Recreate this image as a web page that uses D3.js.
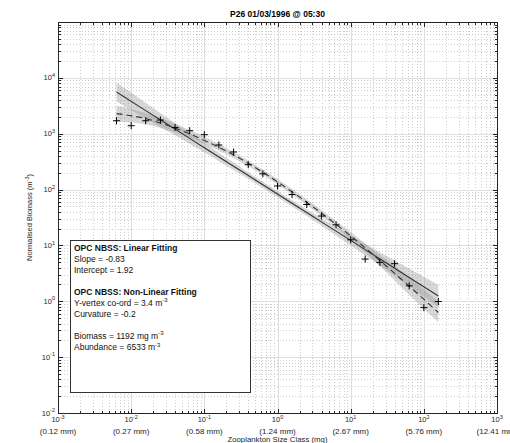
<!DOCTYPE html>
<html>
<head>
<meta charset="utf-8">
<script src="https://cdn.jsdelivr.net/npm/d3@7"></script>
<style>
  body { margin: 0; background: #fff; }
  svg { display: block; font-family: "Liberation Sans", Arial, sans-serif; }
</style>
</head>
<body>
<div id="chart"></div>
<script>
// size classes (mg) and normalised biomass (m^-3)
var sizeClass = [0.0063, 0.01, 0.0158, 0.0251, 0.0398, 0.0631, 0.1, 0.158, 0.251, 0.398, 0.631,
  1, 1.58, 2.51, 3.98, 6.31, 10, 15.8, 25.1, 39.8, 63.1, 100, 158];
var biomass = [1706, 1390, 1706, 1758, 1294, 1132, 959, 628, 471, 279, 191,
  116, 81.5, 54, 33.6, 23.4, 12.6, 5.7, 4.97, 4.71, 1.89, 0.77, 0.99];

// fitted curves
var fitSize   = [0.0063, 0.0158, 0.0398, 0.1, 0.251, 0.631, 1.58, 3.98, 10, 25.1, 63.1, 158];
var linFit    = [5572, 2594, 1208, 562, 262, 122, 56.8, 26.4, 12.3, 5.73, 2.67, 1.24];
var linUpper  = [8241, 3581, 1556, 684, 304, 138, 64.4, 30.7, 15.1, 7.55, 3.85, 1.97];
var linLower  = [3767, 1879, 938, 462, 225, 107, 50.0, 22.8, 10.0, 4.35, 1.85, 0.78];
var quadFit   = [2291, 1862, 1259, 759, 417, 204, 91.2, 38.0, 14.8, 5.37, 1.86, 0.63];
var quadUpper = [3162, 2344, 1514, 881, 473, 229, 102, 43.2, 17.4, 6.76, 2.69, 1.0];
var quadLower = [1660, 1479, 1047, 653, 367, 182, 81.3, 33.5, 12.6, 4.27, 1.29, 0.42];

var xTickExp = [-3, -2, -1, 0, 1, 2, 3];
var xTickMm = ['(0.12 mm)', '(0.27 mm)', '(0.58 mm)', '(1.24 mm)', '(2.67 mm)', '(5.76 mm)', '(12.41 mm)'];
var yTickExp = [-2, -1, 0, 1, 2, 3, 4];

var title = 'P26 01/03/1996 @ 05:30';
var xTitle = 'Zooplankton Size Class (mg)';
var yTitle = ['Normalised Biomass (m', '-3', ')'];
var legendText = [
  'OPC NBSS: Linear Fitting',
  'Slope = -0.83',
  'Intercept = 1.92',
  '',
  'OPC NBSS: Non-Linear Fitting',
  'Y-vertex co-ord = 3.4 m^-3',
  'Curvature = -0.2',
  '',
  'Biomass = 1192 mg m^-3',
  'Abundance = 6533 m^-3'
];

var W = 510, H = 443;
var L = 58, R = 497, T = 22, B = 413;
var ink = '#262626';

var svg = d3.select('#chart').append('svg')
  .attr('width', W).attr('height', H);

var x = d3.scaleLog().domain([1e-3, 1e3]).range([L, R]);
var y = d3.scaleLog().domain([1e-2, 1e5]).range([B, T]);

function px(v) { return Math.round(v) + 0.5; }

// text with "^" superscript
function richText(sel, str, baseSize, supSize) {
  var parts = str.split('^');
  sel.append('tspan').text(parts[0]).style('font-size', baseSize + 'px');
  if (parts.length > 1) {
    sel.append('tspan').text(parts[1]).attr('dy', -baseSize * 0.45).style('font-size', supSize + 'px');
  }
}

// grid
var xMinor = [], yMinor = [];
for (var e = -3; e < 3; e++) for (var k = 2; k <= 9; k++) xMinor.push(k * Math.pow(10, e));
for (var e2 = -2; e2 < 5; e2++) for (var k2 = 2; k2 <= 9; k2++) yMinor.push(k2 * Math.pow(10, e2));
var xMajor = xTickExp.map(function(d) { return Math.pow(10, d); });
var yMajor = yTickExp.concat([5]).map(function(d) { return Math.pow(10, d); });

var grid = svg.append('g').attr('shape-rendering', 'crispEdges');
grid.selectAll('.xmin').data(xMinor).enter().append('line')
  .attr('x1', function(d) { return px(x(d)); }).attr('x2', function(d) { return px(x(d)); })
  .attr('y1', T).attr('y2', B)
  .attr('stroke', '#cdcdcd').attr('stroke-dasharray', '1,2');
grid.selectAll('.ymin').data(yMinor).enter().append('line')
  .attr('y1', function(d) { return px(y(d)); }).attr('y2', function(d) { return px(y(d)); })
  .attr('x1', L).attr('x2', R)
  .attr('stroke', '#cdcdcd').attr('stroke-dasharray', '1,2');
grid.selectAll('.xmaj').data(xMajor).enter().append('line')
  .attr('x1', function(d) { return px(x(d)); }).attr('x2', function(d) { return px(x(d)); })
  .attr('y1', T).attr('y2', B)
  .attr('stroke', '#dedede');
grid.selectAll('.ymaj').data(yMajor).enter().append('line')
  .attr('y1', function(d) { return px(y(d)); }).attr('y2', function(d) { return px(y(d)); })
  .attr('x1', L).attr('x2', R)
  .attr('stroke', '#dedede');

// confidence bands
function band(lo, hi) {
  return d3.area()
    .x(function(d, i) { return x(fitSize[i]); })
    .y0(function(d, i) { return y(lo[i]); })
    .y1(function(d, i) { return y(hi[i]); })
    .curve(d3.curveMonotoneX)(fitSize);
}
svg.append('path').attr('d', band(linLower, linUpper))
  .attr('fill', '#8c8c8c').attr('fill-opacity', 0.35);
svg.append('path').attr('d', band(quadLower, quadUpper))
  .attr('fill', '#8c8c8c').attr('fill-opacity', 0.35);

// fits
var lineGen = function(vals) {
  return d3.line()
    .x(function(d, i) { return x(fitSize[i]); })
    .y(function(d, i) { return y(vals[i]); })
    .curve(d3.curveMonotoneX)(fitSize);
};
svg.append('path').attr('d', lineGen(linFit))
  .attr('fill', 'none').attr('stroke', '#333').attr('stroke-width', 1.1);
svg.append('path').attr('d', lineGen(quadFit))
  .attr('fill', 'none').attr('stroke', '#333').attr('stroke-width', 1.1)
  .attr('stroke-dasharray', '6,4');

// data markers
svg.append('g').selectAll('path').data(sizeClass).enter().append('path')
  .attr('d', function(d, i) {
    var cx = x(d), cy = y(biomass[i]), s = 3.5;
    return 'M' + (cx - s) + ',' + cy + 'H' + (cx + s) + 'M' + cx + ',' + (cy - s) + 'V' + (cy + s);
  })
  .attr('stroke', '#000').attr('stroke-width', 1).attr('fill', 'none');

// axes box and ticks (inward, all four sides)
var ax = svg.append('g').attr('shape-rendering', 'crispEdges');
ax.append('rect').attr('x', L + 0.5).attr('y', T + 0.5)
  .attr('width', R - L).attr('height', B - T)
  .attr('fill', 'none').attr('stroke', ink);
function xTicks(vals, len) {
  vals.forEach(function(d) {
    var xx = px(x(d));
    ax.append('line').attr('x1', xx).attr('x2', xx).attr('y1', B).attr('y2', B - len).attr('stroke', ink);
    ax.append('line').attr('x1', xx).attr('x2', xx).attr('y1', T).attr('y2', T + len).attr('stroke', ink);
  });
}
function yTicks(vals, len) {
  vals.forEach(function(d) {
    var yy = px(y(d));
    ax.append('line').attr('y1', yy).attr('y2', yy).attr('x1', L).attr('x2', L + len).attr('stroke', ink);
    ax.append('line').attr('y1', yy).attr('y2', yy).attr('x1', R).attr('x2', R - len).attr('stroke', ink);
  });
}
xTicks(xMinor, 2.5); xTicks(xMajor, 4.5);
yTicks(yMinor, 2.5); yTicks(yMajor, 4.5);

// tick labels
xTickExp.forEach(function(e, i) {
  var t = svg.append('text').attr('x', x(Math.pow(10, e))).attr('y', 422)
    .attr('text-anchor', 'middle').attr('fill', ink);
  richText(t, '10^' + e, 7.5, 5.5);
  svg.append('text').attr('x', x(Math.pow(10, e))).attr('y', 434)
    .attr('text-anchor', 'middle').attr('fill', ink)
    .style('font-size', '8px').text(xTickMm[i]);
});
yTickExp.forEach(function(e) {
  var t = svg.append('text').attr('x', 55).attr('y', y(Math.pow(10, e)) + 2.5)
    .attr('text-anchor', 'end').attr('fill', ink);
  richText(t, '10^' + e, 7.5, 5.5);
});

// titles
svg.append('text').attr('x', (L + R) / 2).attr('y', 17)
  .attr('text-anchor', 'middle').attr('fill', '#000')
  .style('font-size', '8.5px').style('font-weight', 'bold').text(title);
svg.append('text').attr('x', (L + R) / 2).attr('y', 442)
  .attr('text-anchor', 'middle').attr('fill', ink)
  .style('font-size', '7.8px').text(xTitle);
var yt = svg.append('text')
  .attr('transform', 'translate(32,' + ((T + B) / 2) + ') rotate(-90)')
  .attr('text-anchor', 'middle').attr('fill', ink);
yt.append('tspan').style('font-size', '7.5px').text(yTitle[0]);
yt.append('tspan').attr('dy', -3.4).style('font-size', '5.5px').text(yTitle[1]);
yt.append('tspan').attr('dy', 3.4).style('font-size', '7.5px').text(yTitle[2]);

// legend box
var lg = svg.append('g');
lg.append('rect').attr('x', 70.5).attr('y', 240.5).attr('width', 180).attr('height', 152)
  .attr('fill', '#fff').attr('stroke', '#333').attr('stroke-width', 1)
  .attr('shape-rendering', 'crispEdges');
legendText.forEach(function(s, i) {
  if (!s) return;
  var t = lg.append('text').attr('x', 74).attr('y', 250.5 + i * 11.1).attr('fill', '#111')
    .style('font-weight', s.indexOf('OPC') === 0 ? 'bold' : 'normal');
  richText(t, s, 8.5, 6);
});
</script>
</body>
</html>
